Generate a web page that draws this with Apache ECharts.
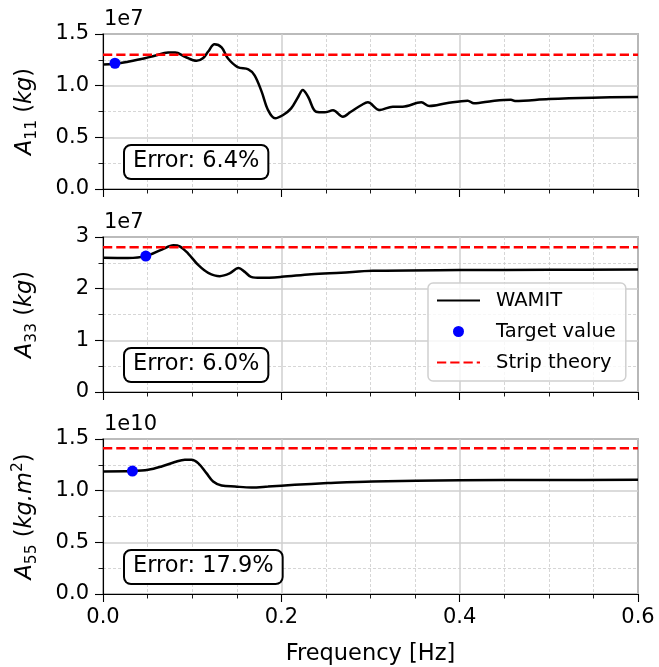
<!DOCTYPE html>
<html>
<head>
<meta charset="utf-8">
<script src="https://cdn.jsdelivr.net/npm/echarts@6/dist/echarts.min.js"></script>
<style>
  html, body { margin: 0; padding: 0; background: #ffffff; }
  #chart { width: 659px; height: 667px; }
</style>
</head>
<body>
<div id="chart"></div>
<script>
// Added-mass coefficients vs. frequency (values scaled by the exponent shown above each panel)
const freqA11 = [0.0, 0.013, 0.028, 0.047, 0.058, 0.073, 0.081, 0.092, 0.105, 0.112, 0.118, 0.125, 0.133, 0.140, 0.151, 0.163, 0.170, 0.178, 0.185, 0.193, 0.202, 0.211, 0.219, 0.224, 0.230, 0.239, 0.2485, 0.258, 0.269, 0.278, 0.290, 0.297, 0.310, 0.325, 0.336, 0.357, 0.366, 0.385, 0.409, 0.416, 0.437, 0.4575, 0.462, 0.500, 0.549, 0.600];
const valA11  = [1.205, 1.21, 1.232, 1.265, 1.29, 1.32, 1.32, 1.28, 1.24, 1.265, 1.33, 1.40, 1.37, 1.265, 1.18, 1.158, 1.10, 0.94, 0.765, 0.684, 0.716, 0.78, 0.893, 0.958, 0.893, 0.748, 0.742, 0.761, 0.70, 0.748, 0.813, 0.839, 0.765, 0.797, 0.797, 0.839, 0.803, 0.829, 0.855, 0.829, 0.852, 0.864, 0.852, 0.871, 0.884, 0.89];

const freqA33 = [0.0, 0.028, 0.048, 0.066, 0.079, 0.086, 0.0955, 0.107, 0.118, 0.131, 0.142, 0.152, 0.159, 0.166, 0.177, 0.2, 0.2335, 0.267, 0.3025, 0.4, 0.5, 0.6];
const valA33  = [2.60, 2.595, 2.63, 2.757, 2.84, 2.82, 2.68, 2.454, 2.306, 2.242, 2.294, 2.40, 2.325, 2.229, 2.21, 2.229, 2.28, 2.31, 2.345, 2.36, 2.365, 2.37];

const freqA55 = [0.0, 0.033, 0.0507, 0.0657, 0.0806, 0.0918, 0.0993, 0.1067, 0.116, 0.1235, 0.133, 0.148, 0.1665, 0.185, 0.215, 0.252, 0.3025, 0.4, 0.5, 0.6];
const valA55  = [1.186, 1.19, 1.202, 1.234, 1.277, 1.30, 1.30, 1.267, 1.17, 1.089, 1.05, 1.04, 1.031, 1.04, 1.057, 1.073, 1.089, 1.10, 1.103, 1.105];

const targetFreq  = [0.0134, 0.048, 0.033];
const targetValue = [1.217, 2.63, 1.19];
const stripTheory = [1.30, 2.80, 1.41];
const errorLabels = ['Error: 6.4%', 'Error: 6.0%', 'Error: 17.9%'];
const exponentLabels = ['1e7', '1e7', '1e10'];

const xTicks = [0.0, 0.2, 0.4, 0.6];
const yTicksA11 = [0.0, 0.5, 1.0, 1.5];
const yTicksA33 = [0, 1, 2, 3];
const yTicksA55 = [0.0, 0.5, 1.0, 1.5];

const seriesFreq = [freqA11, freqA33, freqA55];
const seriesVal = [valA11, valA33, valA55];
const yTicks = [yTicksA11, yTicksA33, yTicksA55];
const yDecimals = [1, 0, 1];
const yNames = [
  '{it|A}{sub|11}{rm| (}{it|kg}{rm|)}',
  '{it|A}{sub|33}{rm| (}{it|kg}{rm|)}',
  '{it|A}{sub|55}{rm| (}{it|kg.m}{sup|2}{rm|)}'
];

const FONT = 'DejaVu Sans';
const gridLeft = 103, gridRight = 21, gridHeight = 155;
const gridTops = [34, 237, 439];
const gridWidth = 659 - gridLeft - gridRight;

const chart = echarts.init(document.getElementById('chart'), null, { renderer: 'canvas' });

const grids = [], xAxes = [], yAxes = [], series = [], graphics = [];

for (let i = 0; i < 3; i++) {
  grids.push({
    left: gridLeft, top: gridTops[i], width: gridWidth, height: gridHeight,
    show: true, borderColor: '#000', borderWidth: 1.1, backgroundColor: 'transparent'
  });

  xAxes.push({
    gridIndex: i, type: 'value',
    min: xTicks[0], max: xTicks[xTicks.length - 1], interval: xTicks[1] - xTicks[0],
    axisLine: { show: true, onZero: false, lineStyle: { color: '#000', width: 1.1 } },
    axisTick: { show: true, inside: false, length: 8, lineStyle: { color: '#000', width: 1.1 } },
    minorTick: { show: true, splitNumber: 4, length: 4.5, lineStyle: { color: '#000', width: 0.9 } },
    axisLabel: {
      show: i === 2, fontSize: 21, fontFamily: FONT, color: '#000', margin: 13,
      formatter: v => v.toFixed(1)
    },
    splitLine: { show: true, lineStyle: { color: '#cfcfcf', width: 1.5 } },
    minorSplitLine: { show: true, lineStyle: { color: '#cccccc', width: 0.8, type: [3, 2] } },
    name: i === 2 ? 'Frequency [Hz]' : '',
    nameLocation: 'middle', nameGap: 49,
    nameTextStyle: { fontSize: 22.5, fontFamily: FONT, color: '#000' }
  });

  const ticks = yTicks[i];
  yAxes.push({
    gridIndex: i, type: 'value',
    min: ticks[0], max: ticks[ticks.length - 1], interval: ticks[1] - ticks[0],
    axisLine: { show: true, onZero: false, lineStyle: { color: '#000', width: 1.1 } },
    axisTick: { show: true, inside: false, length: 8, lineStyle: { color: '#000', width: 1.1 } },
    minorTick: { show: true, splitNumber: 2, length: 4.5, lineStyle: { color: '#000', width: 0.9 } },
    axisLabel: {
      fontSize: 21, fontFamily: FONT, color: '#000', margin: 14,
      formatter: v => v.toFixed(yDecimals[i])
    },
    splitLine: { show: true, lineStyle: { color: '#cfcfcf', width: 1.5 } },
    minorSplitLine: { show: true, lineStyle: { color: '#cccccc', width: 0.8, type: [3, 2] } },
    name: yNames[i], nameLocation: 'middle', nameRotate: 90, nameGap: 63,
    nameTextStyle: {
      fontSize: 22.5, fontFamily: FONT, color: '#000',
      rich: {
        it: { fontSize: 22.5, fontFamily: FONT, fontStyle: 'italic', color: '#000', lineHeight: 30 },
        rm: { fontSize: 22.5, fontFamily: FONT, color: '#000', lineHeight: 30 },
        sub: { fontSize: 15.5, fontFamily: FONT, color: '#000', lineHeight: 18, verticalAlign: 'bottom' },
        sup: { fontSize: 15.5, fontFamily: FONT, color: '#000', lineHeight: 18, verticalAlign: 'top' }
      }
    }
  });

  const curve = seriesFreq[i].map((f, k) => [f, seriesVal[i][k]]);
  series.push({
    name: 'WAMIT', type: 'line', xAxisIndex: i, yAxisIndex: i,
    data: curve, showSymbol: false, symbol: 'none', smooth: 0.35,
    lineStyle: { color: '#000', width: 2.5 }, itemStyle: { color: '#000' },
    z: 3, animation: false
  });
  series.push({
    name: 'Target value', type: 'scatter', xAxisIndex: i, yAxisIndex: i,
    data: [[targetFreq[i], targetValue[i]]], symbol: 'circle', symbolSize: 11,
    itemStyle: { color: '#0000ff', opacity: 1 }, z: 4, animation: false
  });
  series.push({
    name: 'Strip theory', type: 'line', xAxisIndex: i, yAxisIndex: i,
    data: [[xTicks[0], stripTheory[i]], [xTicks[xTicks.length - 1], stripTheory[i]]],
    symbol: 'none', lineStyle: { color: '#ff0000', width: 2.5, type: [9.25, 4] },
    itemStyle: { color: '#ff0000' }, z: 5, animation: false
  });

  // multiplier shown above the y axis
  graphics.push({
    type: 'text', left: gridLeft + 1, top: gridTops[i] - 25, z: 10,
    style: { text: exponentLabels[i], font: '21px "DejaVu Sans"', fill: '#000' }
  });
  // error annotation box
  graphics.push({
    type: 'text', left: gridLeft + 20, top: gridTops[i] + 110, z: 10,
    style: {
      text: errorLabels[i], font: '22.5px "DejaVu Sans"', fill: '#000',
      backgroundColor: '#fff', borderColor: '#000', borderWidth: 2, borderRadius: 6,
      padding: [4, 8, 5, 8]
    }
  });
}

chart.setOption({
  animation: false,
  backgroundColor: '#ffffff',
  grid: grids,
  xAxis: xAxes,
  yAxis: yAxes,
  series: series,
  graphic: graphics,
  legend: {
    data: [
      { name: 'WAMIT', itemStyle: { opacity: 0 } },
      { name: 'Target value', itemStyle: { opacity: 1 } },
      { name: 'Strip theory', itemStyle: { opacity: 0 } }
    ],
    orient: 'vertical', left: 428, top: 283,
    padding: [6, 10, 7, 8], itemGap: 8, itemWidth: 43, itemHeight: 11,
    backgroundColor: 'rgba(255,255,255,0.8)', borderColor: '#d0d0d0', borderWidth: 1.5, borderRadius: 5,
    textStyle: { fontSize: 19.5, fontFamily: FONT, color: '#000', padding: [0, 0, 0, 11], lineHeight: 23 },
    selectedMode: false
  }
});
</script>
</body>
</html>
